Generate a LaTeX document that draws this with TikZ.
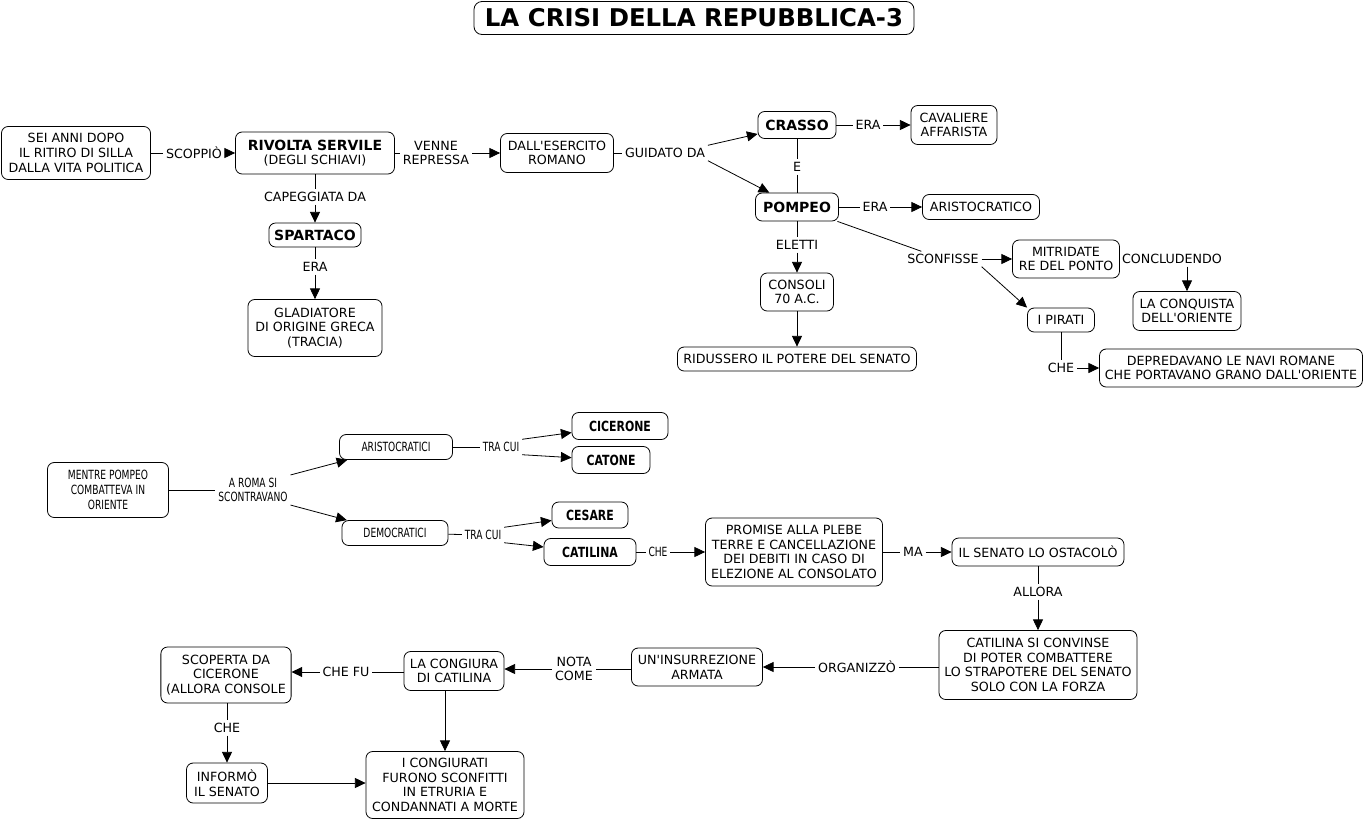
\documentclass[tikz,border=0pt]{standalone}
\usepackage{fontspec}
\setmainfont{DejaVu Sans}
\newfontfamily\narrowfont[FakeStretch=0.72]{DejaVu Sans}
\newfontfamily\narrowboldfont[FakeStretch=0.78]{DejaVu Sans Bold}
\usepackage{tikz}
\usetikzlibrary{arrows.meta}
\newcommand{\ap}{\textquotesingle}

\begin{document}
\begin{tikzpicture}[x=0.75pt,y=-0.75pt,
  box/.style={draw,line width=0.6pt,rounded corners=5pt,align=center,inner xsep=4pt,inner ysep=2pt,font=\fontsize{9.5}{11}\selectfont},
  bbox/.style={box,font=\fontsize{10.5}{12}\selectfont\bfseries},
  nbox/.style={box,font=\fontsize{9.5}{11}\selectfont\narrowfont},
  nbbox/.style={box,font=\fontsize{10.5}{12}\selectfont\narrowboldfont},
  wh/.style 2 args={minimum width=#1*0.75pt,minimum height=#2*0.75pt},
  lab/.style={align=center,inner sep=2pt,font=\fontsize{9.5}{11}\selectfont},
  nlab/.style={lab,font=\fontsize{9.5}{11}\selectfont\narrowfont},
  ln/.style={line width=0.6pt},
  arr/.style={ln,-{Triangle[length=8pt,width=7.5pt]}}]
\path[use as bounding box,fill=white] (0,0) rectangle (1365,822);
\node[box,wh={440}{33},font=\fontsize{18.3}{20}\selectfont\bfseries,rounded corners=6pt] (title) at (694,18) {LA CRISI DELLA REPUBBLICA-3};

\node[box,wh={149}{53}] (sei) at (76,153) {SEI ANNI DOPO\\IL RITIRO DI SILLA\\DALLA VITA POLITICA};
\node[lab] (scop) at (194,153) {SCOPPIÒ};
\node[box,wh={159}{42}] (rivolta) at (315,153) {{\fontsize{10.5}{12}\selectfont\bfseries RIVOLTA SERVILE}\\(DEGLI SCHIAVI)};
\draw[ln] (sei) -- (scop); \draw[arr] (scop) -- (rivolta);
\node[lab] (capegg) at (315,197) {CAPEGGIATA DA};
\node[bbox,wh={89}{24}] (spartaco) at (315,235) {SPARTACO};
\draw[ln] (rivolta) -- (capegg); \draw[arr] (capegg) -- (spartaco);
\node[lab] (era1) at (315,267) {ERA};
\node[box,wh={134}{57}] (gladiatore) at (315,328) {GLADIATORE\\DI ORIGINE GRECA\\(TRACIA)};
\draw[ln] (spartaco) -- (era1); \draw[arr] (era1) -- (gladiatore);
\node[lab] (venne) at (436,153) {VENNE\\REPRESSA};
\node[box,wh={113}{39}] (esercito) at (557,153) {DALL\ap ESERCITO\\ROMANO};
\draw[ln] (rivolta) -- (venne); \draw[arr] (venne) -- (esercito);
\node[lab] (guidato) at (665,153) {GUIDATO DA};
\draw[ln] (esercito) -- (guidato);

\node[bbox,wh={78}{27}] (crasso) at (797,125) {CRASSO};
\node[bbox,wh={83}{28}] (pompeo) at (797,207) {POMPEO};
\draw[arr] (guidato.north east) -- (crasso); \draw[arr] (guidato.south east) -- (pompeo);
\node[lab] (e) at (797,167) {E};
\draw[ln] (crasso) -- (e); \draw[ln] (e) -- (pompeo);
\node[lab] (era2) at (868,125) {ERA};
\node[box,wh={86}{39}] (cavaliere) at (954,125) {CAVALIERE\\AFFARISTA};
\draw[ln] (crasso) -- (era2); \draw[arr] (era2) -- (cavaliere);
\node[lab] (era3) at (875,207) {ERA};
\node[box,wh={117}{25}] (aristocratico) at (981,207) {ARISTOCRATICO};
\draw[ln] (pompeo) -- (era3); \draw[arr] (era3) -- (aristocratico);
\node[lab] (eletti) at (797,245) {ELETTI};
\node[box,wh={73}{38}] (consoli) at (797,292) {CONSOLI\\70 A.C.};
\node[box,wh={239}{24}] (ridussero) at (797,359) {RIDUSSERO IL POTERE DEL SENATO};
\draw[ln] (pompeo) -- (eletti); \draw[arr] (eletti) -- (consoli); \draw[arr] (consoli) -- (ridussero);

\node[lab] (sconfisse) at (943,259) {SCONFISSE};
\node[box,wh={107}{38}] (mitridate) at (1066,259) {MITRIDATE\\RE DEL PONTO};
\node[box,wh={67}{24}] (pirati) at (1061,320) {I PIRATI};
\draw[ln] (pompeo) -- (sconfisse); \draw[arr] (sconfisse) -- (mitridate); \draw[arr] (sconfisse.south east) -- (pirati.north west);
\node[lab] (concludendo) at (1172,259) {CONCLUDENDO};
\node[box,wh={108}{39}] (conquista) at (1187,311) {LA CONQUISTA\\DELL\ap ORIENTE};
\draw[ln] (mitridate) -- (concludendo); \draw[arr] (concludendo.south -| conquista.north) -- (conquista.north);
\node[lab] (che1) at (1061,368) {CHE};
\node[box,wh={261}{38}] (depredavano) at (1231,368) {DEPREDAVANO LE NAVI ROMANE\\CHE PORTAVANO GRANO DALL\ap ORIENTE};
\draw[ln] (pirati) -- (che1); \draw[arr] (che1) -- (depredavano);

\node[nbox,wh={121}{55}] (mentre) at (108,490) {MENTRE POMPEO\\COMBATTEVA IN\\ORIENTE};
\node[nlab] (roma) at (253,490) {A ROMA SI\\SCONTRAVANO};
\node[nbox,wh={113}{25}] (aristocratici) at (396,447) {ARISTOCRATICI};
\node[nbox,wh={106}{25}] (democratici) at (395,533) {DEMOCRATICI};
\draw[ln] (mentre) -- (roma); \draw[arr] (roma.north east) -- (aristocratici); \draw[arr] (roma.south east) -- (democratici);
\node[nlab] (tracui1) at (501,447) {TRA CUI};
\node[nbbox,wh={96}{27}] (cicerone) at (620,426) {CICERONE};
\node[nbbox,wh={78}{27}] (catone) at (611,460) {CATONE};
\draw[ln] (aristocratici) -- (tracui1); \draw[arr] (tracui1.north east) -- (cicerone); \draw[arr] (tracui1.south east) -- (catone);
\node[nlab] (tracui2) at (483,535) {TRA CUI};
\node[nbbox,wh={76}{26}] (cesare) at (590,515) {CESARE};
\node[nbbox,wh={92}{27}] (catilina) at (590,552) {CATILINA};
\draw[ln] (democratici) -- (tracui2); \draw[arr] (tracui2.north east) -- (cesare); \draw[arr] (tracui2.south east) -- (catilina);
\node[nlab] (che2) at (658,552) {CHE};
\node[box,wh={177}{68}] (promise) at (794,552) {PROMISE ALLA PLEBE\\TERRE E CANCELLAZIONE\\DEI DEBITI IN CASO DI\\ELEZIONE AL CONSOLATO};
\draw[ln] (catilina) -- (che2); \draw[arr] (che2) -- (promise);
\node[lab] (ma) at (913,552) {MA};
\node[box,wh={172}{28}] (senato) at (1038,552) {IL SENATO LO OSTACOLÒ};
\draw[ln] (promise) -- (ma); \draw[arr] (ma) -- (senato);
\node[lab] (allora) at (1038,592) {ALLORA};
\node[box,wh={197}{69}] (convinse) at (1038,665) {CATILINA SI CONVINSE\\DI POTER COMBATTERE\\LO STRAPOTERE DEL SENATO\\SOLO CON LA FORZA};
\draw[ln] (senato) -- (allora); \draw[arr] (allora) -- (convinse);

\node[lab] (organizzo) at (857,667) {ORGANIZZÒ};
\node[box,wh={131}{38}] (insurrezione) at (697,667) {UN\ap INSURREZIONE\\ARMATA};
\draw[ln] (convinse.west |- organizzo) -- (organizzo); \draw[arr] (organizzo) -- (insurrezione);
\node[lab] (nota) at (574,669) {NOTA\\COME};
\node[box,wh={100}{39}] (congiura) at (454,671) {LA CONGIURA\\DI CATILINA};
\draw[ln] (insurrezione.west |- nota) -- (nota); \draw[arr] (nota) -- (nota -| congiura.east);
\node[lab] (chefu) at (346,672) {CHE FU};
\node[box,wh={130}{56}] (scoperta) at (226,675) {SCOPERTA DA\\CICERONE\\(ALLORA CONSOLE};
\draw[ln] (congiura.west |- chefu) -- (chefu); \draw[arr] (chefu) -- (chefu -| scoperta.east);
\node[lab] (che3) at (227,728) {CHE};
\node[box,wh={81}{40}] (informo) at (227,783) {INFORMÒ\\IL SENATO};
\draw[ln] (scoperta.south -| che3) -- (che3); \draw[arr] (che3) -- (informo);
\node[box,wh={158}{67}] (congiurati) at (445,785) {I CONGIURATI\\FURONO SCONFITTI\\IN ETRURIA E\\CONDANNATI A MORTE};
\draw[arr] (congiura.south -| congiurati.north) -- (congiurati.north); \draw[arr] (informo) -- (informo -| congiurati.west);

\end{tikzpicture}
\end{document}
